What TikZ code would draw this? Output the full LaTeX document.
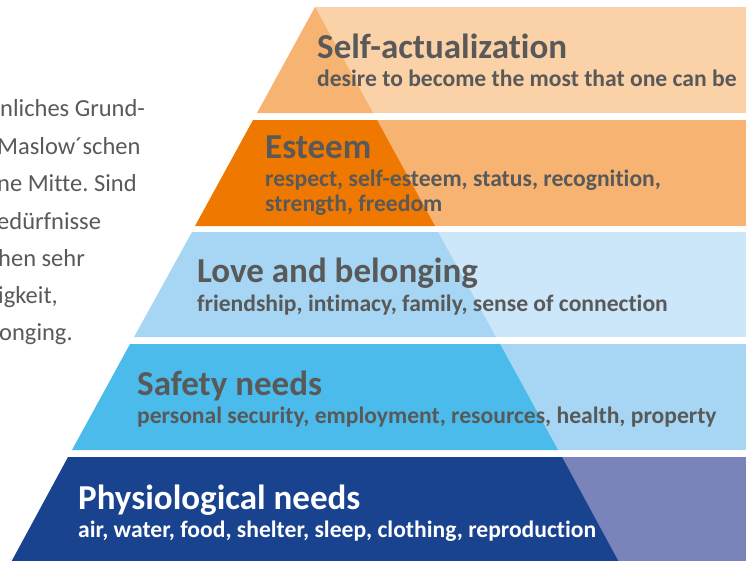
\documentclass[tikz,border=0pt]{standalone}
\usepackage{fontspec}
\setmainfont[Ligatures=NoCommon]{Carlito}
\frenchspacing
\definecolor{peachA}{HTML}{FBD1A7}
\definecolor{peachB}{HTML}{F7B371}
\definecolor{orangeD}{HTML}{EE7800}
\definecolor{blueL}{HTML}{CCE7F9}
\definecolor{blueM}{HTML}{A6D6F3}
\definecolor{blueS}{HTML}{4ABBEA}
\definecolor{navy}{HTML}{19428F}
\definecolor{lilac}{HTML}{7A83BA}
\definecolor{txtgray}{HTML}{595959}
\tikzset{
  title/.style={anchor=base west, inner sep=0pt, text=txtgray, font=\fontsize{35}{35}\selectfont\bfseries},
  subtitle/.style={anchor=base west, inner sep=0pt, text=txtgray, font=\fontsize{23.6}{24}\selectfont\bfseries},
  sidetext/.style={anchor=base west, inner sep=0pt, text=txtgray, font=\fontsize{24.5}{25}\selectfont}
}
\begin{document}
\begin{tikzpicture}[x=1pt,y=-1pt]
\useasboundingbox (0,0) rectangle (746,560);
\clip (0,0) rectangle (746,560);
% band 1
\fill[peachA] (315,7) rectangle (750,113);
\fill[peachB] (315,7) -- (257,113) -- (373,113) -- cycle;
% band 2
\fill[peachB] (315,120) rectangle (750,226);
\fill[orangeD] (253,120) -- (377,120) -- (435,226) -- (195,226) -- cycle;
% band 3
\fill[blueL] (315,232) rectangle (750,337);
\fill[blueM] (192,232) -- (438,232) -- (496,337) -- (134,337) -- cycle;
% band 4
\fill[blueM] (315,344) rectangle (750,450);
\fill[blueS] (130,344) -- (500,344) -- (558,450) -- (72,450) -- cycle;
% band 5
\fill[lilac] (315,457) rectangle (750,566);
\fill[navy] (68,457) -- (562,457) -- (621,566) -- (9,566) -- cycle;
% texts
\node[title] (t1) at (317,58.5) {Self-actualization};
\node[subtitle] (s1) at (317,86) {desire to become the most that one can be};
\node[title] (t2) at (265,158) {Esteem};
\node[subtitle] (s2a) at (265,186) {respect, self-esteem, status, recognition,};
\node[subtitle] (s2b) at (265,211) {strength, freedom};
\node[title] (t3) at (197,282.5) {Love and belonging};
\node[subtitle] (s3) at (197,311) {friendship, intimacy, family, sense of connection};
\node[title] (t4) at (137,395) {Safety needs};
\node[subtitle] (s4) at (137,423) {personal security, employment, resources, health, property};
\node[title,text=white] (t5) at (78,509) {Physiological needs};
\node[subtitle,text=white] (s5) at (78,537) {air, water, food, shelter, sleep, clothing, reproduction};
% side text (cut at the left edge, as in the reference)
\node[sidetext] (l1) at (0,116) {nliches Grund-};
\node[sidetext] (l2) at (-3,154) {Maslow´schen};
\node[sidetext] (l3) at (-3,191) {ne Mitte. Sind};
\node[sidetext] (l4) at (-3,229) {edürfnisse};
\node[sidetext] (l5) at (-2,266) {hen sehr};
\node[sidetext] (l6) at (-2,303) {igkeit,};
\node[sidetext] (l7) at (-1,340) {onging.};
\end{tikzpicture}
\end{document}
